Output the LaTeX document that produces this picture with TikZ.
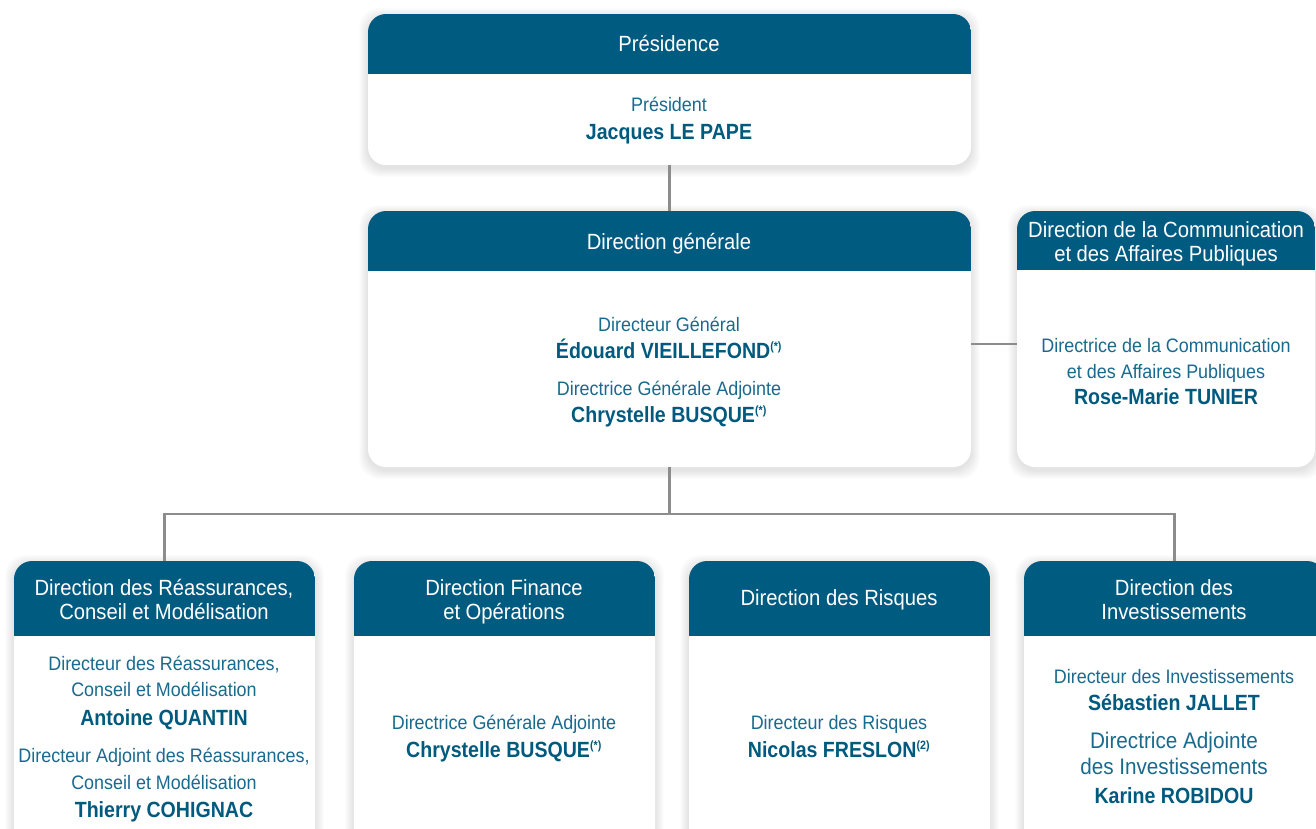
\documentclass[tikz,border=0pt]{standalone}
\usepackage{fontspec}
\setmainfont[FakeStretch=0.92,BoldFeatures={FakeStretch=0.89}]{Liberation Sans}
\definecolor{hdr}{HTML}{005B80}
\definecolor{txt}{HTML}{1A6A8E}
\definecolor{nm}{HTML}{005A7E}
\definecolor{ln}{HTML}{8C8C8C}
\newcommand\mkbox[6]{%
  \foreach \s in {1,...,9}{%
    \fill[black,opacity=0.010,rounded corners=20pt] (#2-\s,#3-\s+3) rectangle (#2+#4+\s,#3+#5+\s+3);}
  \node[orgbox,minimum width=#4pt,minimum height=#5pt,anchor=north west] (#1) at (#2,#3) {};
  \begin{scope}
    \clip[rounded corners=18pt] (#1.north west) rectangle (#1.south east);
    \fill[hdr] (#1.north west) rectangle ([yshift=-#6pt]#1.north east);
  \end{scope}}
\tikzset{
  orgbox/.style={draw=none,fill=white,rounded corners=18pt,inner sep=0pt,outer sep=0pt},
  htext/.style={anchor=base,text=white,font=\fontsize{22}{26}\selectfont,inner sep=0pt},
  rtext/.style={anchor=base,text=txt,font=\fontsize{19.5}{23}\selectfont,inner sep=0pt},
  btext/.style={anchor=base,text=nm,font=\fontsize{22}{26}\selectfont\bfseries,inner sep=0pt},
  conn/.style={draw=ln,line width=2.6pt}
}
\newcommand\supast{\textsuperscript{\fontsize{12}{13}\selectfont(*)}}
\begin{document}
\begin{tikzpicture}[x=1pt,y=-1pt]
\useasboundingbox[fill=white] (0,0) rectangle (1316,829);
% boxes
\mkbox{pres}{368}{14}{603}{151}{60}
\mkbox{dg}{368}{211}{603}{256}{60}
\mkbox{comm}{1017}{211}{298}{256}{59}
\mkbox{bA}{14}{561}{301}{300}{75}
\mkbox{bB}{354}{561}{301}{300}{75}
\mkbox{bC}{689}{561}{301}{300}{75}
\mkbox{bD}{1024}{561}{301}{300}{75}
% connectors
\draw[conn] (pres.south) -- (dg.north);
\draw[conn] ([yshift=-5pt]dg.east) -- ([yshift=-5pt]comm.west);
\coordinate (j) at ([yshift=-47pt]dg.south);
\draw[conn] (dg.south) -- (j);
\draw[conn] (bA.north) |- (j) -| (bD.north);
% Présidence
\node[htext] (presh) at (669,52) {Présidence};
\node[rtext] (presr) at (669,112) {Président};
\node[btext] (presn) at (669,140) {Jacques LE PAPE};
% Direction générale
\node[htext] (dgh) at (669,249) {Direction générale};
\node[rtext] (dgr1) at (669,331) {Directeur Général};
\node[btext] (dgn1) at (669,358) {Édouard VIEILLEFOND\supast};
\node[rtext] (dgr2) at (669,395) {Directrice Générale Adjointe};
\node[btext] (dgn2) at (669,422) {Chrystelle BUSQUE\supast};
% Communication
\node[htext] (commh1) at (1166,237) {Direction de la Communication};
\node[htext] (commh2) at (1166,261) {et des Affaires Publiques};
\node[rtext] (commr1) at (1166,352) {Directrice de la Communication};
\node[rtext] (commr2) at (1166,378) {et des Affaires Publiques};
\node[btext] (commn) at (1166,404) {Rose-Marie TUNIER};
% Box A
\node[htext] (bAh1) at (164,595) {Direction des Réassurances,};
\node[htext] (bAh2) at (164,619) {Conseil et Modélisation};
\node[rtext] (bAr1) at (164,670) {Directeur des Réassurances,};
\node[rtext] (bAr2) at (164,696) {Conseil et Modélisation};
\node[btext] (bAn1) at (164,725) {Antoine QUANTIN};
\node[rtext] (bAr3) at (164,762) {Directeur Adjoint des Réassurances,};
\node[rtext] (bAr4) at (164,789) {Conseil et Modélisation};
\node[btext] (bAn2) at (164,817) {Thierry COHIGNAC};
% Box B
\node[htext] (bBh1) at (504,595) {Direction Finance};
\node[htext] (bBh2) at (504,619) {et Opérations};
\node[rtext] (bBr) at (504,729) {Directrice Générale Adjointe};
\node[btext] (bBn) at (504,757) {Chrystelle BUSQUE\supast};
% Box C
\node[htext] (bCh) at (839,605) {Direction des Risques};
\node[rtext] (bCr) at (839,729) {Directeur des Risques};
\node[btext] (bCn) at (839,757) {Nicolas FRESLON\textsuperscript{\fontsize{12}{13}\selectfont(2)}};
% Box D
\node[htext] (bDh1) at (1174,595) {Direction des};
\node[htext] (bDh2) at (1174,619) {Investissements};
\node[rtext] (bDr1) at (1174,683) {Directeur des Investissements};
\node[btext] (bDn1) at (1174,710) {Sébastien JALLET};
\node[rtext,font=\fontsize{22.5}{26}\selectfont] (bDr2) at (1174,748) {Directrice Adjointe};
\node[rtext,font=\fontsize{22.5}{26}\selectfont] (bDr3) at (1174,774) {des Investissements};
\node[btext] (bDn2) at (1174,803) {Karine ROBIDOU};
\end{tikzpicture}
\end{document}
